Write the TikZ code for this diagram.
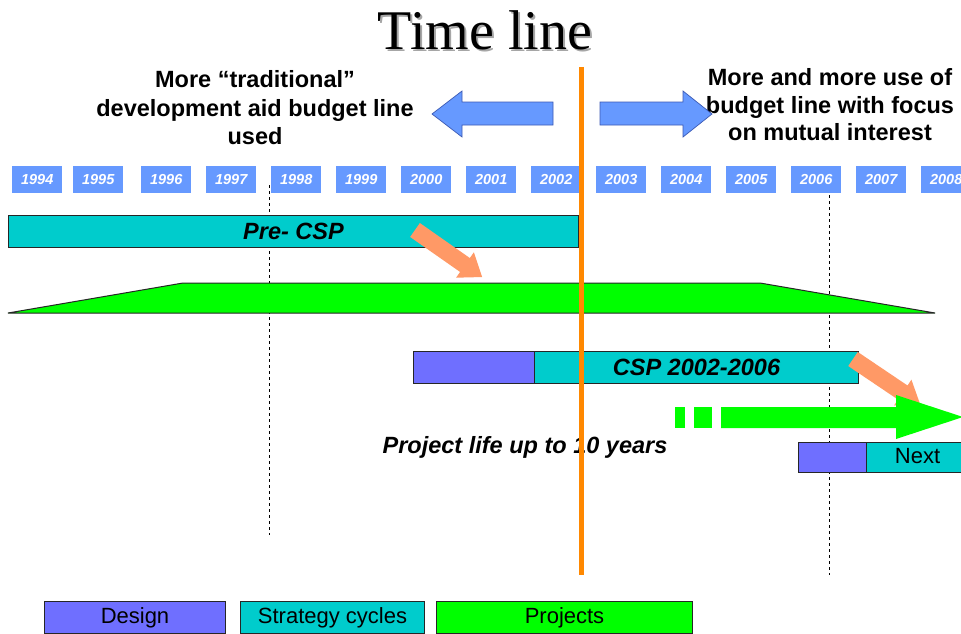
\documentclass[tikz,border=0pt]{standalone}
\usepackage{fontspec}
\setmainfont{Liberation Serif}
\setsansfont{Liberation Sans}
\definecolor{yearblue}{RGB}{102,153,255}
\definecolor{arrowblue}{RGB}{102,153,255}
\definecolor{arrowedge}{RGB}{60,90,180}
\definecolor{tealbar}{RGB}{0,204,204}
\definecolor{designbar}{RGB}{111,111,255}
\definecolor{projgreen}{RGB}{0,255,0}
\definecolor{salmonarrow}{RGB}{255,153,102}
\definecolor{orangeline}{RGB}{255,136,0}
\begin{document}
\begin{tikzpicture}[x=1pt,y=-1pt,
  headtext/.style={font=\sffamily\bfseries\fontsize{23.5}{28}\selectfont, anchor=base, inner sep=0pt},
  yearbox/.style={fill=yearblue, anchor=north west, minimum width=50pt, minimum height=27pt, inner sep=0pt,
     text=white, font=\sffamily\bfseries\itshape\fontsize{14.5}{14}\selectfont},
  bar/.style={draw=black!85, line width=1pt, anchor=north west, inner sep=0pt},
  bartext/.style={font=\sffamily\bfseries\itshape\fontsize{23.5}{28}\selectfont},
  plaintext/.style={font=\sffamily\fontsize{22}{26}\selectfont, text depth=4pt, text height=16pt},
  guide/.style={black, line width=0.8pt, dash pattern=on 3pt off 3pt},
  blockarrow/.style={fill=arrowblue, draw=arrowedge, line width=0.7pt},
  salmonshape/.style={fill=salmonarrow}
]
\useasboundingbox (0,0) rectangle (961,634);
\fill[white] (0,0) rectangle (961,634);

% guide dashed lines
\coordinate (g1top) at (269,185);
\coordinate (g1bot) at (269,535);
\coordinate (g2top) at (829,195);
\coordinate (g2bot) at (829,575);
\draw[guide] (g1top) -- (g1bot);
\draw[guide] (g2top) -- (g2bot);

% title
\node[font=\fontsize{56}{60}\selectfont, text=black!35, anchor=base, inner sep=0pt] (titleshadow) at (487,52) {Time line};
\node[font=\fontsize{56}{60}\selectfont, anchor=base, inner sep=0pt] (title) at (485,50) {Time line};

% header texts
\node[headtext] (l1) at (255,88) {More “traditional”};
\node[headtext] (l2) at (255,116) {development aid budget line};
\node[headtext] (l3) at (255,144) {used};
\node[headtext] (r1) at (830,85) {More and more use of};
\node[headtext] (r2) at (830,113) {budget line with focus};
\node[headtext] (r3) at (830,140) {on mutual interest};

% block arrows
\draw[blockarrow] (553,102) -- (462,102) -- (462,91) -- (432,114) -- (462,137) -- (462,125) -- (553,125) -- cycle;
\draw[blockarrow] (600,102) -- (683,102) -- (683,91) -- (712,114) -- (683,137) -- (683,125) -- (600,125) -- cycle;

% years
\foreach \yr/\xx in {1994/12,1995/73,1996/141,1997/206,1998/271,1999/336,2000/401,2001/466,2002/531,2003/596,2004/661,2005/726,2006/791,2007/856,2008/921}
  \node[yearbox] (y\yr) at (\xx,166) {\yr};

% Pre-CSP bar
\node[bar, fill=tealbar, minimum width=570pt, minimum height=32pt, bartext] (precsp) at (8,215) {Pre- CSP};

% projects trapezoid
\draw[fill=projgreen, draw=black!85, line width=1pt] (8,313) -- (183,283) -- (760,283) -- (935,313) -- cycle;

% CSP bars
\node[bar, fill=designbar, minimum width=121pt, minimum height=32pt] (cspdesign) at (413,351) {};
\node[bar, fill=tealbar, minimum width=324pt, minimum height=32pt, bartext] (csp) at (534,351) {CSP 2002-2006};

% Next bars
\node[bar, fill=designbar, minimum width=68pt, minimum height=30pt] (nextdesign) at (798,442) {};
\node[bar, fill=tealbar, minimum width=102pt, minimum height=30pt, plaintext] (next) at (866,442) {Next};

% salmon arrows
\fill[salmonshape, shift={(415,230)}, rotate=-35] (0,-8.5) -- (61,-8.5) -- (61,-15.5) -- (82,0) -- (61,15.5) -- (61,8.5) -- (0,8.5) -- cycle;
\fill[salmonshape, shift={(853,359)}, rotate=-34] (0,-8.5) -- (60,-8.5) -- (60,-15.5) -- (81,0) -- (60,15.5) -- (60,8.5) -- (0,8.5) -- cycle;

% green project arrow
\fill[projgreen] (675,407) rectangle (685,428);
\fill[projgreen] (694,407) rectangle (712,428);
\fill[projgreen] (721,407) -- (896,407) -- (896,395) -- (963,417) -- (896,439) -- (896,428) -- (721,428) -- cycle;

% project life text
\node[bartext, anchor=base, inner sep=0pt] (projlife) at (525,453) {Project life up to 10 years};

% legend
\node[bar, fill=designbar, minimum width=181pt, minimum height=32pt, plaintext] (legdesign) at (44,601) {Design};
\node[bar, fill=tealbar, minimum width=184pt, minimum height=32pt, plaintext] (legstrategy) at (240,601) {Strategy cycles};
\node[bar, fill=projgreen, minimum width=256pt, minimum height=32pt, plaintext] (legprojects) at (436,601) {Projects};

% orange divider
\coordinate (otop) at (581,67);
\coordinate (obot) at (581,575);
\draw[orangeline, line width=5pt] (otop) -- (obot);
\end{tikzpicture}
\end{document}
